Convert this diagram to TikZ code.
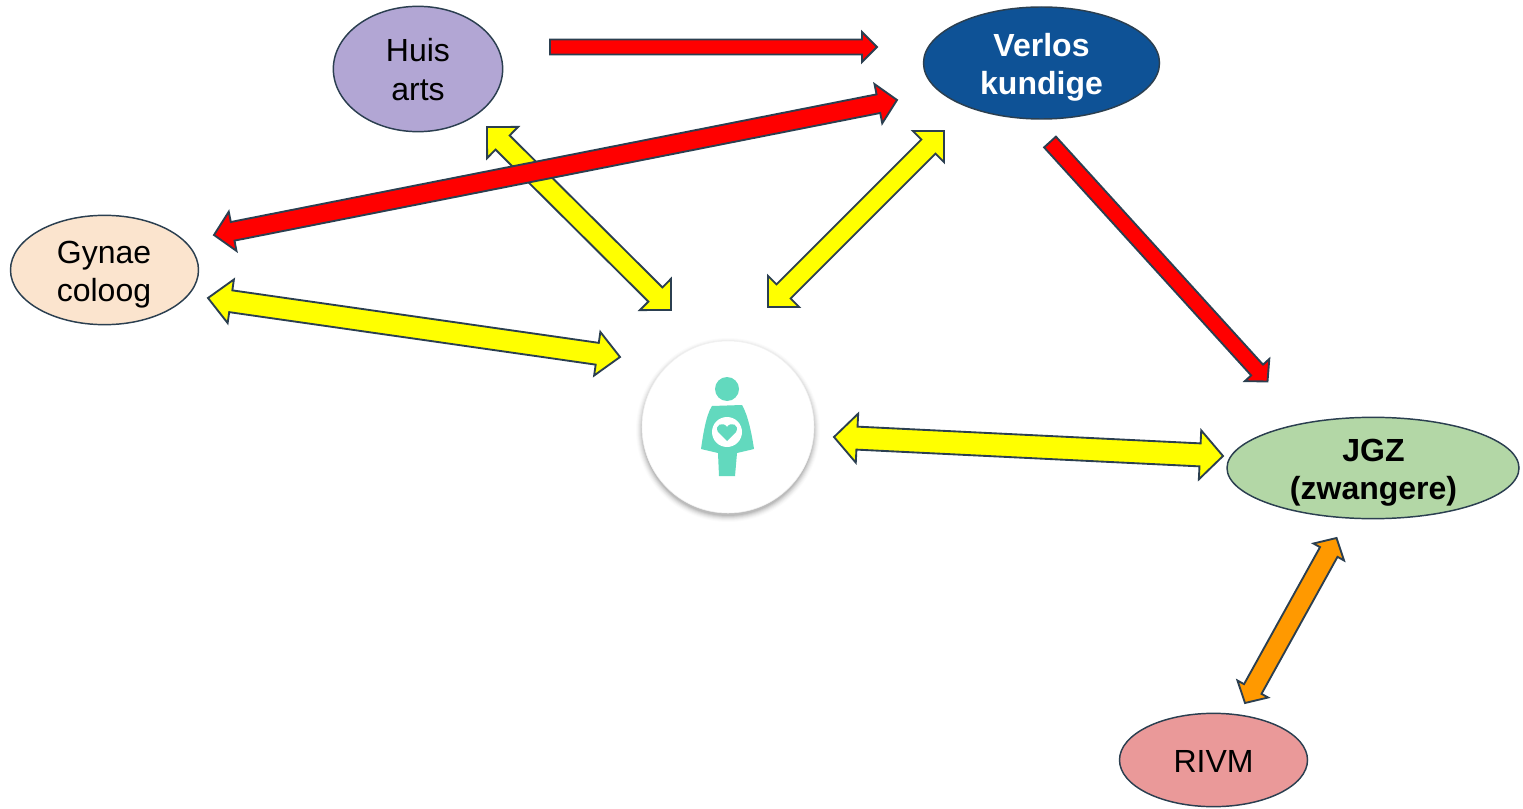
\documentclass[tikz,border=0pt]{standalone}
\usepackage{fontspec}
\setmainfont{Liberation Sans}
\definecolor{line-gray}{HTML}{2B3F50}
\definecolor{mint}{HTML}{62D9BE}
\definecolor{arrow-red}{HTML}{FF0000}
\definecolor{arrow-yellow}{HTML}{FFFF00}
\definecolor{arrow-orange}{HTML}{FF9900}
\usetikzlibrary{calc,shapes.geometric}
% block arrow with one head: style, tail, tip, half width, half head, head length
\newcommand*\blockarrow[6]{
	\coordinate (hb) at ($(#3)!#6*0.75pt!(#2)$);
	\draw[#1] ($(#2)!#4*0.75pt!90:(#3)$) -- ($(hb)!#4*0.75pt!90:(#3)$) -- ($(hb)!#5*0.75pt!90:(#3)$) -- (#3)
		-- ($(hb)!#5*0.75pt!-90:(#3)$) -- ($(hb)!#4*0.75pt!-90:(#3)$) -- ($(#2)!#4*0.75pt!-90:(#3)$) -- cycle;
}
% block arrow with two heads
\newcommand*\twoarrow[6]{
	\coordinate (hb) at ($(#3)!#6*0.75pt!(#2)$);
	\coordinate (ha) at ($(#2)!#6*0.75pt!(#3)$);
	\draw[#1] (#2) -- ($(ha)!#5*0.75pt!90:(#3)$) -- ($(ha)!#4*0.75pt!90:(#3)$) -- ($(hb)!#4*0.75pt!90:(#3)$) -- ($(hb)!#5*0.75pt!90:(#3)$) -- (#3)
		-- ($(hb)!#5*0.75pt!-90:(#3)$) -- ($(hb)!#4*0.75pt!-90:(#3)$) -- ($(ha)!#4*0.75pt!-90:(#3)$) -- ($(ha)!#5*0.75pt!-90:(#3)$) -- cycle;
}

\begin{document}
\begin{tikzpicture}[x=0.75pt,y=-0.75pt,
	party/.style={draw=line-gray,line width=1.1pt,ellipse,inner sep=0pt},
	partytext/.style={align=center,inner sep=0pt,font=\fontsize{24}{28.7}\selectfont},
	redarrow/.style={draw=line-gray,line width=1.4pt,fill=arrow-red,miter limit=6},
	yellowarrow/.style={draw=line-gray,line width=1.4pt,fill=arrow-yellow,miter limit=6},
	orangearrow/.style={draw=line-gray,line width=1.4pt,fill=arrow-orange,miter limit=6}]
	\useasboundingbox (0,0) rectangle (1523,809);
	% people around the client
	\node[party,minimum width=127pt,minimum height=94pt,fill={rgb,255:red,178;green,166;blue,212}] (huis) at (418,69) {};
	\node[partytext] (huistext) at (418,69.5) {Huis\\arts};
	\node[party,minimum width=177pt,minimum height=84pt,fill={rgb,255:red,14;green,82;blue,150}] (verlos) at (1041.5,63) {};
	\node[partytext,text=white,font=\bfseries\fontsize{24}{28.7}\selectfont] (verlostext) at (1041.5,67.5) {Verlos\\kundige};
	\node[party,minimum width=141pt,minimum height=82pt,fill={rgb,255:red,251;green,228;blue,206}] (gynae) at (104.5,270) {};
	\node[partytext] (gynaetext) at (104,274.5) {Gynae\\coloog};
	\node[party,minimum width=219pt,minimum height=76pt,fill={rgb,255:red,179;green,215;blue,166}] (jgz) at (1373,468) {};
	\node[partytext,font=\bfseries\fontsize{24}{28.7}\selectfont] (jgztext) at (1373.5,473) {JGZ\\(zwangere)};
	\node[party,minimum width=141pt,minimum height=70pt,fill={rgb,255:red,234;green,153;blue,153}] (rivm) at (1213.5,760) {};
	\node[partytext] (rivmtext) at (1213.5,761) {RIVM};
	% client with soft shadow
	\foreach \r/\o in {92/0.015,91/0.02,90/0.03,89/0.04,88/0.05,87/0.06,86/0.08}
		\fill[black,opacity=\o] (728,430) circle [radius=\r];
	\node[circle,fill=white,draw=black!5,minimum size=129pt,inner sep=0pt] (client) at (728,427) {};
	\fill[mint] (727,389) circle [radius=12];
	\fill[mint] (712,406) -- (742,405) .. controls (748,415) and (752,435) .. (754,449) -- (737,453) -- (735,476) -- (719,476) -- (718,453) -- (701,449) .. controls (703,435) and (706,415) .. (712,406) -- cycle;
	\fill[white] (727,432) circle [radius=15];
	\fill[mint] (727,441) -- (718,432) .. controls (714,425) and (723,421) .. (727,427) .. controls (731,421) and (740,425) .. (736,432) -- cycle;
	% arrow ends
	\coordinate (a1) at (550,47);
	\coordinate (a2) at (877,47);
	\coordinate (b1) at (214,235);
	\coordinate (b2) at (897,100);
	\coordinate (c1) at (1050,142);
	\coordinate (c2) at (1267.5,381.5);
	\coordinate (d1) at (487,127);
	\coordinate (d2) at (671,310);
	\coordinate (e1) at (944,131);
	\coordinate (e2) at (768,307);
	\coordinate (f1) at (208,298);
	\coordinate (f2) at (620,357);
	\coordinate (g1) at (834,437);
	\coordinate (g2) at (1223,456);
	\coordinate (h1) at (1336.5,538);
	\coordinate (h2) at (1245,703);
	\twoarrow{yellowarrow}{d1}{d2}{10}{22}{22}
	\twoarrow{yellowarrow}{e1}{e2}{10}{22}{22}
	\twoarrow{yellowarrow}{f1}{f2}{11}{22}{23}
	\twoarrow{yellowarrow}{g1}{g2}{11.5}{24.5}{23}
	\twoarrow{orangearrow}{h1}{h2}{10}{17.5}{16}
	\blockarrow{redarrow}{a1}{a2}{7.5}{15}{15}
	\twoarrow{redarrow}{b1}{b2}{9.5}{20}{19}
	\blockarrow{redarrow}{c1}{c2}{8}{16.5}{15.5}
\end{tikzpicture}
\end{document}
